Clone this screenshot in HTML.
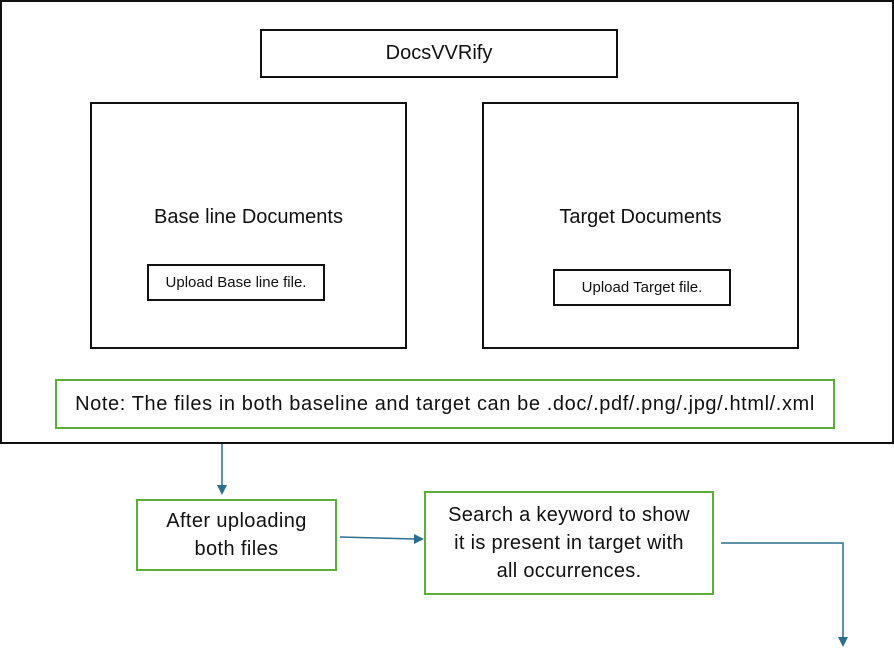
<html><head><style>
body{margin:0;background:#fff;width:894px;height:651px;position:relative;font-family:"Liberation Sans",sans-serif;overflow:hidden}
.b{position:absolute;box-sizing:border-box;display:flex;align-items:center;justify-content:center;text-align:center;color:#111}
.k{border:2px solid #111}
.g{border:2px solid #5aae3c}
</style></head><body>
<div class="b k" style="left:0;top:0;width:894px;height:444px"></div>
<div class="b k" style="left:260px;top:29px;width:358px;height:49px;font-size:20px">DocsVVRify</div>
<div class="b k" style="left:90px;top:102px;width:317px;height:247px"></div>
<div class="b k" style="left:482px;top:102px;width:317px;height:247px"></div>
<div class="b" style="left:90px;top:205px;width:317px;height:24px;font-size:20px">Base line Documents</div>
<div class="b" style="left:482px;top:205px;width:317px;height:24px;font-size:20px">Target Documents</div>
<div class="b k" style="left:147px;top:264px;width:178px;height:37px;font-size:15px">Upload Base line file.</div>
<div class="b k" style="left:553px;top:269px;width:178px;height:37px;font-size:15px">Upload Target file.</div>
<div class="b g" style="left:55px;top:379px;width:780px;height:50px;font-size:20px;letter-spacing:0.6px;white-space:nowrap">Note: The files in both baseline and target can be .doc/.pdf/.png/.jpg/.html/.xml</div>
<div class="b g" style="left:136px;top:499px;width:201px;height:72px;font-size:20px;line-height:28px;letter-spacing:0.4px">After uploading<br>both files</div>
<div class="b g" style="left:424px;top:491px;width:290px;height:104px;font-size:20px;line-height:28px;letter-spacing:0.3px">Search a keyword to show<br>it is present in target with<br>all occurrences.</div>
<svg width="894" height="651" style="position:absolute;left:0;top:0">
<g stroke="#2a6f8f" stroke-width="1.5" fill="none">
<path d="M222 444V486"/><path d="M340 537L415 539"/><path d="M721 543H843V638"/>
</g>
<g fill="#2a6f8f">
<path d="M217 485L227 485L222 495Z"/><path d="M414 534L424 539L414 544Z"/><path d="M838 637L848 637L843 647Z"/>
</g></svg>
</body></html>
